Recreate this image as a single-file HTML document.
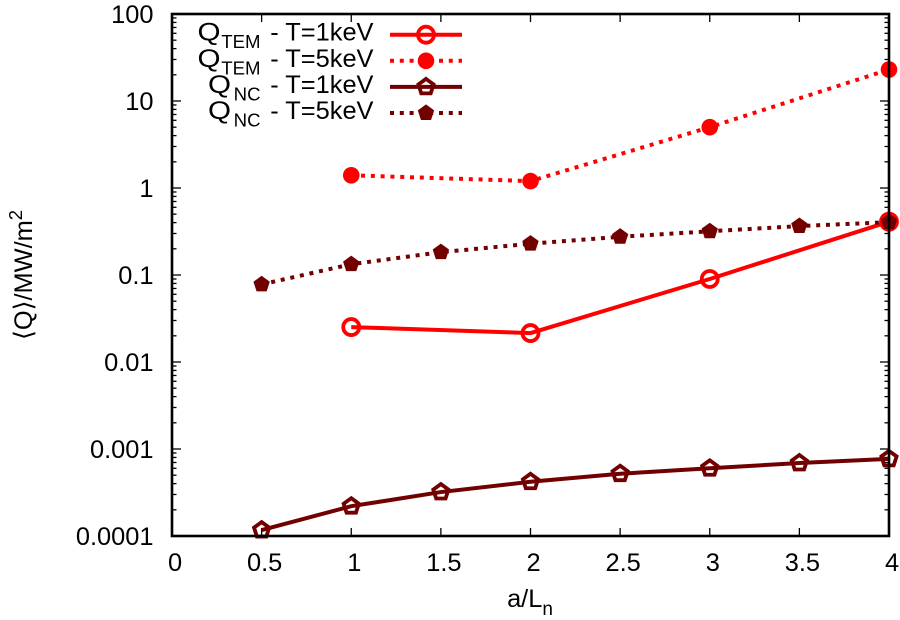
<!DOCTYPE html>
<html>
<head>
<meta charset="utf-8">
<style>
html,body{margin:0;padding:0;background:#fff;width:900px;height:620px;overflow:hidden}
svg{display:block;filter:blur(0.3px)}
text{font-family:"Liberation Sans",sans-serif;font-size:25.4px;fill:#000}
</style>
</head>
<body>
<svg id="chart" width="900" height="620" viewBox="0 0 900 620" xmlns="http://www.w3.org/2000/svg">
  <g id="grid-ticks"></g>
  <g id="series"></g>
  <rect x="172" y="14" width="717" height="522" fill="none" stroke="#000" stroke-width="2.6"/>
  <g id="labels"></g>
  <text x="530" y="607" text-anchor="middle">a/L<tspan dy="8" font-size="19">n</tspan></text>
  <text transform="translate(32,275) rotate(-90)" text-anchor="middle" textLength="130" lengthAdjust="spacingAndGlyphs">⟨Q⟩/MW/m<tspan dy="-10" font-size="18.5">2</tspan></text>
  <g id="legend"></g>
</svg>
<script>
const xTicks = [0, 0.5, 1, 1.5, 2, 2.5, 3, 3.5, 4];
const xTickLabels = ['0', '0.5', '1', '1.5', '2', '2.5', '3', '3.5', '4'];
const yTicks = [100, 10, 1, 0.1, 0.01, 0.001, 0.0001];
const yTickLabels = ['100', '10', '1', '0.1', '0.01', '0.001', '0.0001'];

const temX = [1, 2, 3, 4];
const ncX = [0.5, 1, 1.5, 2, 2.5, 3, 3.5, 4];
const temT1 = [0.0252, 0.0215, 0.09, 0.41];
const temT5 = [1.4, 1.2, 5, 23];
const ncT1 = [0.000117, 0.00022, 0.00032, 0.00042, 0.00052, 0.0006, 0.00069, 0.00077];
const ncT5 = [0.078, 0.133, 0.183, 0.229, 0.275, 0.318, 0.365, 0.405];

const NS = 'http://www.w3.org/2000/svg';
const RED = '#ff0000';
const DARK = '#720000';
const X0 = 172, X1 = 889, Y0 = 536, Y1 = 14;

function sx(v) { return X0 + (v - 0) / 4 * (X1 - X0); }
function sy(v) { return Y0 - (Math.log10(v) + 4) / 6 * (Y0 - Y1); }

function mk(tag, attrs, parent) {
  const el = document.createElementNS(NS, tag);
  for (const k in attrs) el.setAttribute(k, attrs[k]);
  parent.appendChild(el);
  return el;
}

function pentagonPoints(cx, cy, r) {
  const pts = [];
  for (let i = 0; i < 5; i++) {
    const a = -Math.PI / 2 + i * 2 * Math.PI / 5;
    pts.push((cx + r * Math.cos(a)).toFixed(2) + ',' + (cy + r * Math.sin(a)).toFixed(2));
  }
  return pts.join(' ');
}

function marker(kind, cx, cy, color, parent) {
  let el;
  if (kind === 'open-circle') {
    el = mk('circle', { cx: cx, cy: cy, r: 8, fill: 'none', stroke: color, 'stroke-width': 3.8 }, parent);
  } else if (kind === 'filled-circle') {
    el = mk('circle', { cx: cx, cy: cy, r: 8.3, fill: color }, parent);
  } else if (kind === 'open-pentagon') {
    el = mk('polygon', { points: pentagonPoints(cx, cy, 8), fill: 'none', stroke: color, 'stroke-width': 3.8 }, parent);
  } else {
    el = mk('polygon', { points: pentagonPoints(cx, cy, 8.6), fill: color }, parent);
  }
  
  
}

function drawSeries(name, xs, ys, color, dashed, kind) {
  const g = mk('g', {}, document.getElementById('series'));
  
  
  const pts = xs.map((x, i) => sx(x).toFixed(2) + ',' + sy(ys[i]).toFixed(2)).join(' ');
  const line = mk('polyline', { points: pts, fill: 'none', stroke: color, 'stroke-width': 4 }, g);
  if (dashed) line.setAttribute('stroke-dasharray', '4 5.8');
  
  
  xs.forEach((x, i) => marker(kind, sx(x), sy(ys[i]), color, g));
}

function tick(x1, y1, x2, y2, w) {
  const t = mk('line', { x1: x1, y1: y1, x2: x2, y2: y2, stroke: '#000', 'stroke-width': w }, document.getElementById('grid-ticks'));
  
  
}

const labelsG = document.getElementById('labels');
xTicks.forEach((v, i) => {
  const x = sx(v);
  tick(x, Y0, x, Y0 - 8, 1.3);
  tick(x, Y1, x, Y1 + 8, 1.3);
  const t = mk('text', { x: x + 3, y: 571, 'text-anchor': 'middle' }, labelsG);
  
  
  t.textContent = xTickLabels[i];
});
yTicks.forEach((v, i) => {
  const y = sy(v);
  tick(X0, y, X0 + 9, y, 1.3);
  tick(X1, y, X1 - 9, y, 1.3);
  const t = mk('text', { x: 153.5, y: y + 9, 'text-anchor': 'end' }, labelsG);
  
  
  t.textContent = yTickLabels[i];
  if (v > 0.0001) {
    for (let m = 2; m < 10; m++) {
      const ym = sy(v / 10 * m);
      tick(X0, ym, X0 + 4.5, ym, 1.3);
      tick(X1, ym, X1 - 4.5, ym, 1.3);
    }
  }
});

drawSeries('series-tem-t1', temX, temT1, RED, false, 'open-circle');
drawSeries('series-tem-t5', temX, temT5, RED, true, 'filled-circle');
drawSeries('series-nc-t1', ncX, ncT1, DARK, false, 'open-pentagon');
drawSeries('series-nc-t5', ncX, ncT5, DARK, true, 'filled-pentagon');

const legendSubs = ['TEM', 'TEM', 'NC', 'NC'];
const legendTemps = ['- T=1keV', '- T=5keV', '- T=1keV', '- T=5keV'];
const legendColors = [RED, RED, DARK, DARK];
const legendDashed = [false, true, false, true];
const legendKinds = ['open-circle', 'filled-circle', 'open-pentagon', 'filled-pentagon'];
const legendG = document.getElementById('legend');
legendSubs.forEach((sub, i) => {
  const yc = 34.7 + i * 26.1;
  const row = mk('g', {}, legendG);
  
  
  const subWidth = sub.length === 3 ? 39 : 28.5;
  const q = mk('text', { x: 260 - subWidth - 23.5, y: yc + 6, textLength: 23, lengthAdjust: 'spacingAndGlyphs' }, row);
  
  
  q.textContent = 'Q';
  const s = mk('text', { x: 260.5, y: yc + 13.5, 'text-anchor': 'end' }, row);
  s.style.fontSize = '18.6px';
  
  
  s.textContent = sub;
  const r = mk('text', { x: 373.5, y: yc + 6, 'text-anchor': 'end' }, row);
  
  
  r.textContent = legendTemps[i];
  const l = mk('line', { x1: 390, y1: yc, x2: 462, y2: yc, stroke: legendColors[i], 'stroke-width': 4 }, row);
  if (legendDashed[i]) l.setAttribute('stroke-dasharray', '4 5.8');
  
  
  marker(legendKinds[i], 426, yc, legendColors[i], row);
});
</script>
</body>
</html>
